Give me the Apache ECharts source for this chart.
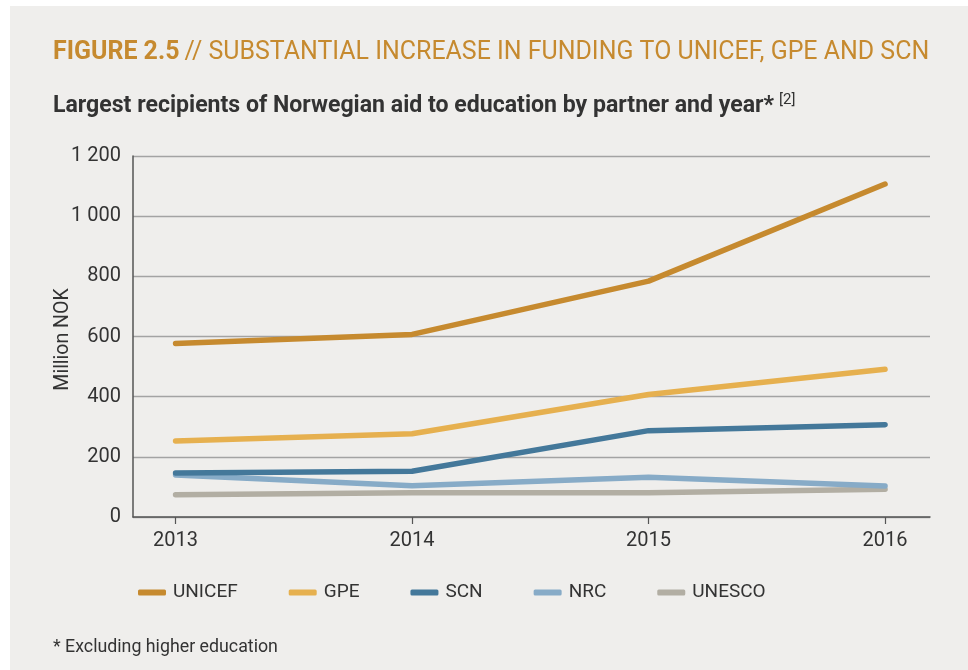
<!DOCTYPE html>
<html>
<head>
<meta charset="utf-8">
<script src="https://cdn.jsdelivr.net/npm/echarts@6/dist/echarts.min.js"></script>
<style>
html,body{margin:0;padding:0;background:#ffffff;}
#bg{position:absolute;left:10px;top:6px;width:958px;height:664px;background:#efeeec;}
#chart{position:absolute;left:0;top:0;width:968px;height:670px;}
</style>
</head>
<body>
<div id="bg"></div>
<div id="chart"></div>
<script>
const years = [2013, 2014, 2015, 2016];
const seriesNames = ['UNICEF', 'GPE', 'SCN', 'NRC', 'UNESCO'];
const unicef = [577, 607, 784, 1107];
const gpe = [253, 277, 407, 491];
const scn = [146, 152, 287, 307];
const nrc = [140, 104, 132, 103];
const unesco = [74, 81, 81, 92];
const yTicks = [0, 200, 400, 600, 800, 1000, 1200];
const colors = ['#c68a2f', '#e6b04f', '#44789a', '#87abc7', '#b2aea3'];

const FONT = 'Roboto, "Liberation Sans", sans-serif';
const allValues = [unicef, gpe, scn, nrc, unesco];

const chart = echarts.init(document.getElementById('chart'), null, {renderer: 'canvas'});
chart.setOption({
  backgroundColor: 'transparent',
  animation: false,
  title: [{
    left: 48, top: 35,
    text: '{b|FIGURE 2.5} {r|// SUBSTANTIAL INCREASE IN FUNDING TO UNICEF, GPE AND SCN}',
    textStyle: {
      rich: {
        b: {fontFamily: FONT, fontSize: 24.95, fontWeight: 'bold', color: '#c68a2f'},
        r: {fontFamily: FONT, fontSize: 24.95, fontWeight: 'normal', color: '#c68a2f'}
      }
    }
  }, {
    left: 48, top: 88,
    text: '{s|Largest recipients of Norwegian aid to education by partner and year*}{sup|[2]}',
    textStyle: {
      rich: {
        s: {fontFamily: FONT, fontSize: 23.1, fontWeight: 'bold', color: '#333333'},
        sup: {fontFamily: FONT, fontSize: 15, fontWeight: 'normal', color: '#333333', verticalAlign: 'top', padding: [0,0,12,5]}
      }
    }
  }],
  grid: {left: 133, right: 38, top: 156, bottom: 153, containLabel: false},
  xAxis: {
    type: 'value',
    min: 2012.82, max: 2016.19,
    axisLine: {show: true, lineStyle: {color: '#555555', width: 1.5}},
    axisTick: {show: true, customValues: years, length: 7, lineStyle: {color: '#555555', width: 1.2}},
    axisLabel: {customValues: years, fontFamily: FONT, fontSize: 20, color: '#333333', margin: 14,
      formatter: v => String(Math.round(v))},
    splitLine: {show: false}
  },
  yAxis: {
    type: 'value',
    min: 0, max: 1200, interval: 200,
    name: 'Million NOK',
    nameLocation: 'middle',
    nameMoveOverlap: false,
    nameGap: 60,
    nameTextStyle: {fontFamily: FONT, fontSize: 19.5, color: '#333333', padding: [0, 6, 0, 0]},
    axisLine: {show: true, lineStyle: {color: '#555555', width: 1.5}},
    axisTick: {show: false},
    axisLabel: {fontFamily: FONT, fontSize: 20, color: '#333333', margin: 12,
      formatter: v => v >= 1000 ? String(v).replace(/(\d)(\d{3})$/, '$1 $2') : String(v)},
    splitLine: {show: true, lineStyle: {color: '#a3a3a3', width: 1.3}}
  },
  legend: {
    left: 133, top: 578,
    icon: 'roundRect',
    itemWidth: 28, itemHeight: 6, itemGap: 51,
    textStyle: {fontFamily: FONT, fontSize: 19, color: '#333333', padding: [0,0,0,2]},
    data: seriesNames
  },
  graphic: [{
    type: 'text', left: 53, top: 639,
    style: {text: '* Excluding higher education', fontFamily: FONT, fontSize: 17.8, fill: '#333333'}
  }],
  series: seriesNames.map((n, i) => ({
    name: n,
    type: 'line',
    data: years.map((y, j) => [y, allValues[i][j]]),
    symbol: 'none',
    lineStyle: {width: 5.5, color: colors[i], cap: 'round', join: 'round'},
    itemStyle: {color: colors[i]},
    z: 10 - i
  }))
});
</script>
</body>
</html>
